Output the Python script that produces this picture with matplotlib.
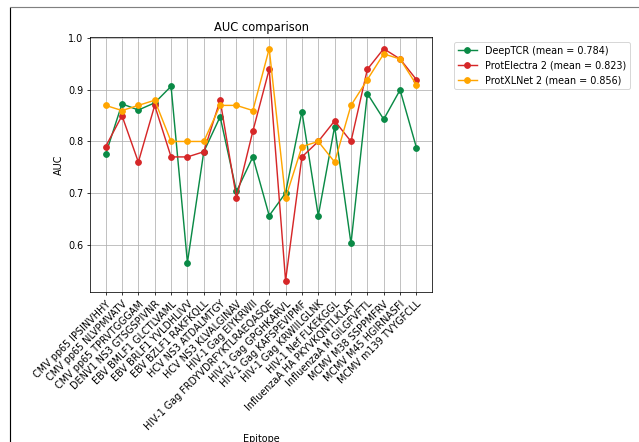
import numpy as np
import matplotlib
matplotlib.use("Agg")
import matplotlib.pyplot as plt
from matplotlib.lines import Line2D

# Per-epitope AUC for each model
epitopes = ["CMV pp65 IPSINVHHY", "CMV pp65 NLVPMVATV", "CMV pp65 TPRVTGGGAM",
            "DENV1 NS3 GTSGSPIVNR", "EBV BMLF1 GLCTLVAML", "EBV BRLF1 YVLDHLIVV",
            "EBV BZLF1 RAKFKQLL", "HCV NS3 ATDALMTGY", "HCV NS3 KLVALGINAV",
            "HIV-1 Gag EIYKRWII", "HIV-1 Gag FRDYVDRFYKTLRAEQASQE", "HIV-1 Gag GPGHKARVL",
            "HIV-1 Gag KAFSPEVIPMF", "HIV-1 Gag KRWIILGLNK", "HIV-1 Nef FLKEKGGL",
            "InfluenzaA HA PKYVKQNTLKLAT", "InfluenzaA M GILGFVFTL", "MCMV M38 SSPPMFRV",
            "MCMV M45 HGIRNASFI", "MCMV m139 TVYGFCLL"]

deeptcr = [0.775, 0.873, 0.861, 0.875, 0.907, 0.565, 0.78, 0.848, 0.703, 0.77,
           0.656, 0.70, 0.858, 0.656, 0.829, 0.602, 0.893, 0.843, 0.90, 0.788]
protelectra = [0.79, 0.85, 0.76, 0.87, 0.77, 0.77, 0.78, 0.88, 0.69, 0.82,
               0.94, 0.53, 0.77, 0.80, 0.84, 0.80, 0.94, 0.98, 0.96, 0.92]
protxlnet = [0.87, 0.86, 0.87, 0.88, 0.80, 0.80, 0.80, 0.87, 0.87, 0.86,
             0.98, 0.69, 0.79, 0.80, 0.76, 0.87, 0.92, 0.97, 0.96, 0.91]

models = ["DeepTCR", "ProtElectra 2", "ProtXLNet 2"]
means = [0.784, 0.823, 0.856]
colors = ["#0a8a46", "#d62728", "#ffa500"]

DPI = 69
fig = plt.figure(figsize=(639 / DPI, 442 / DPI), dpi=DPI)
ax = fig.add_axes([0.141, 0.339, 0.535, 0.577])

x = np.arange(len(epitopes))
for vals, name, m, c in zip([deeptcr, protelectra, protxlnet], models, means, colors):
    ax.plot(x, vals, marker="o", color=c,
            label="{} (mean = {:.3f})".format(name, m))

ax.set_xticks(x)
ax.set_xticklabels(epitopes, rotation=45, ha="right", rotation_mode="anchor")
ax.set_yticks([0.6, 0.7, 0.8, 0.9, 1.0])
ax.grid(True)
ax.set_title("AUC comparison")
ax.set_ylabel("AUC")
ax.set_xlabel("Epitope", labelpad=2)
ax.legend(loc="upper left", bbox_to_anchor=(1.05, 1.0))

# outer frame edges
fig.add_artist(Line2D([10/639, 10/639], [0, 1 - 8/442], color="black", linewidth=1.2))
fig.add_artist(Line2D([10/639, 1], [1 - 7/442, 1 - 7/442], color="gray", linewidth=1.2))

fig.savefig("out.png", dpi=DPI)
